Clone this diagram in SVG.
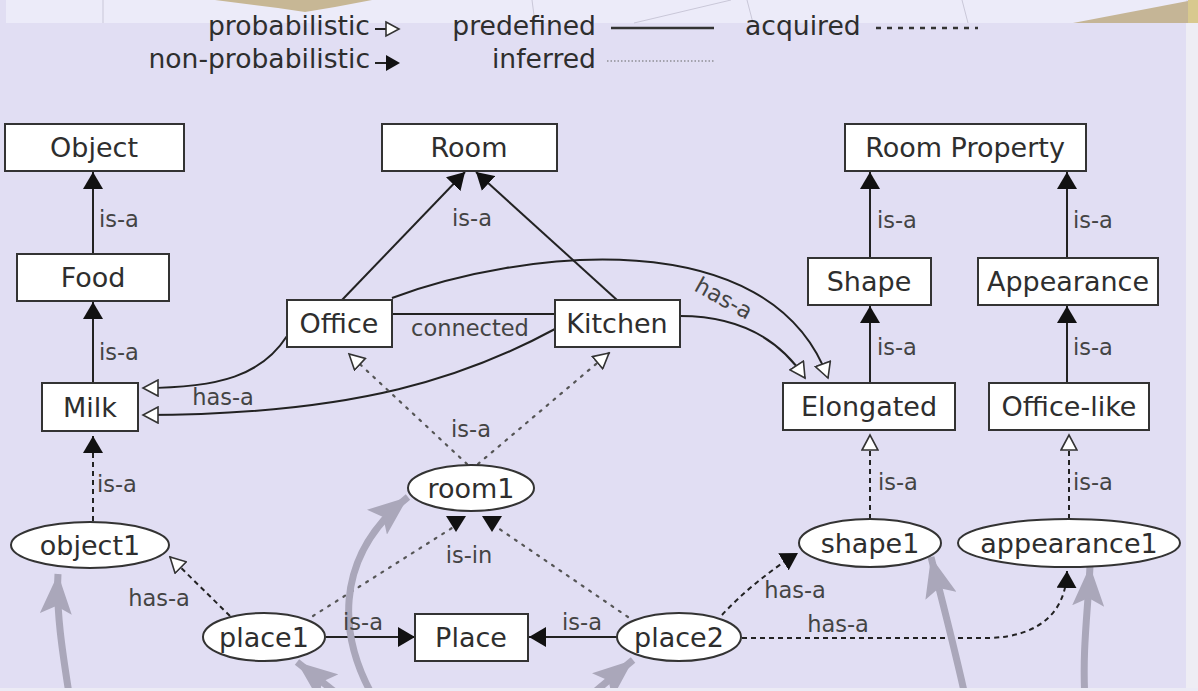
<svg xmlns="http://www.w3.org/2000/svg" width="1198" height="691" viewBox="0 0 1198 691">
<style>
.box{fill:#fff;stroke:#333;stroke-width:2}
.nl{font-family:"DejaVu Sans",sans-serif;font-size:27px;fill:#2e2e2e;text-anchor:middle}
.el{font-family:"DejaVu Sans",sans-serif;font-size:22.5px;fill:#444}
.lg{font-family:"DejaVu Sans",sans-serif;font-size:26.6px;fill:#2e2e2e}
.e{fill:none;stroke:#222;stroke-width:2}
.acq{fill:none;stroke:#222;stroke-width:2;stroke-dasharray:5 4}
.inf{fill:none;stroke:#555;stroke-width:2.2;stroke-dasharray:2 7;stroke-linecap:round}
.g{fill:none;stroke:#aaa7ba;stroke-width:7}
.ah{fill:#111}
</style>
<defs>
<marker id="f" markerUnits="userSpaceOnUse" markerWidth="18" markerHeight="20" refX="17" refY="10" orient="auto"><path d="M0,0 L17,10 L0,20 z" fill="#111"/></marker>
<marker id="h" markerUnits="userSpaceOnUse" markerWidth="18" markerHeight="18" refX="16" refY="9" orient="auto"><path d="M1,1 L16,9 L1,17 z" fill="#fff" stroke="#333" stroke-width="1.6"/></marker>
<marker id="ga" markerUnits="userSpaceOnUse" markerWidth="42" markerHeight="32" refX="40" refY="16" orient="auto"><path d="M0,0 L40,16 L0,32 L8,16 z" fill="#aaa7ba"/></marker>
</defs>
<rect x="0" y="0" width="1198" height="691" fill="#e1def3"/>
<rect x="6" y="0" width="1180" height="23" fill="#ecebf9"/>
<rect x="1186" y="23" width="12" height="668" fill="#eeedf4"/>
<g stroke="#c9c7d8" stroke-width="1" fill="none">
<line x1="103" y1="0" x2="103" y2="23"/>
<line x1="532" y1="0" x2="535" y2="23"/>
<line x1="634" y1="23" x2="731" y2="0"/>
<line x1="747" y1="0" x2="753" y2="23"/>
<line x1="962" y1="0" x2="968" y2="23"/>
</g>
<polygon points="215,0 372,0 335,7 305,12 278,8" fill="#c7b795"/>
<polygon points="1073,23 1188,1 1188,23" fill="#c5b596"/>
<rect x="1188" y="0" width="10" height="23" fill="#d8c98e"/>

<g id="legend">
<text class="lg" x="370" y="35" text-anchor="end">probabilistic</text>
<line x1="375" y1="29" x2="388" y2="29" stroke="#222" stroke-width="2"/>
<path d="M386,22 L399,29 L386,36 z" fill="#fff" stroke="#333" stroke-width="1.6"/>
<text class="lg" x="370" y="68" text-anchor="end">non-probabilistic</text>
<line x1="375" y1="63" x2="388" y2="63" stroke="#222" stroke-width="2"/>
<path d="M386,55 L400,63 L386,71 z" fill="#111"/>
<text class="lg" x="596" y="35" text-anchor="end">predefined</text>
<line x1="611" y1="28" x2="714" y2="28" stroke="#333" stroke-width="2.5"/>
<text class="lg" x="596" y="68" text-anchor="end">inferred</text>
<line x1="607" y1="61" x2="714" y2="61" stroke="#666" stroke-width="1.2" stroke-dasharray="1.5 2"/>
<text class="lg" x="745" y="35">acquired</text>
<line x1="876" y1="28" x2="978" y2="28" stroke="#333" stroke-width="2.5" stroke-dasharray="5 6"/>
</g>

<g id="connectors">
<line class="e" x1="93" y1="254" x2="93" y2="172" marker-end="url(#f)"/>
<line class="e" x1="93" y1="383" x2="93" y2="302" marker-end="url(#f)"/>
<line class="acq" x1="93" y1="521" x2="93" y2="436" marker-end="url(#f)"/>
<line class="e" x1="342" y1="300" x2="465" y2="172" marker-end="url(#f)"/>
<line class="e" x1="617" y1="300" x2="476" y2="172" marker-end="url(#f)"/>
<line class="e" x1="392" y1="314" x2="555" y2="314"/>
<path class="e" d="M287,336 C262,375 220,388 143,388" marker-end="url(#h)"/>
<path class="e" d="M555,329 C470,375 360,415 143,415" marker-end="url(#h)"/>
<path class="e" d="M392,298 C520,250 770,220 828,378" marker-end="url(#h)"/>
<path class="e" d="M680,316 C740,316 780,340 805,378" marker-end="url(#h)"/>
<line class="e" x1="870" y1="258" x2="870" y2="172" marker-end="url(#f)"/>
<line class="e" x1="1067" y1="258" x2="1067" y2="172" marker-end="url(#f)"/>
<line class="e" x1="870" y1="383" x2="870" y2="306" marker-end="url(#f)"/>
<line class="e" x1="1067" y1="383" x2="1067" y2="306" marker-end="url(#f)"/>
<line class="acq" x1="870" y1="519" x2="870" y2="435" marker-end="url(#h)"/>
<line class="acq" x1="1069" y1="519" x2="1069" y2="435" marker-end="url(#h)"/>
<path class="inf" d="M467,464 L349,354" marker-end="url(#h)"/>
<path class="inf" d="M478,464 L609,353" marker-end="url(#h)"/>
<path class="inf" d="M313,616 L452,528"/>
<path class="inf" d="M628,617 L498,528"/>
<polygon class="ah" points="446,516 466,516 456,532"/>
<polygon class="ah" points="482,516 502,516 492,532"/>
<path class="acq" d="M230,616 L170,557" marker-end="url(#h)"/>
<line class="e" x1="326" y1="637" x2="415" y2="637" marker-end="url(#f)"/>
<line class="e" x1="617" y1="637" x2="529" y2="637" marker-end="url(#f)"/>
<path class="acq" d="M722,615 C740,595 770,570 798,553" marker-end="url(#f)"/>
<path class="acq" d="M742,638 L990,638 C1040,636 1066,612 1067,571" marker-end="url(#f)"/>
<path class="g" d="M70,700 C62,650 56,610 58,574" marker-end="url(#ga)"/>
<path class="g" d="M345,700 L297,662" marker-end="url(#ga)"/>
<path class="g" d="M375,700 C340,640 330,560 408,497" marker-end="url(#ga)"/>
<path class="g" d="M585,700 L633,660" marker-end="url(#ga)"/>
<path class="g" d="M966,700 C955,650 942,600 931,557" marker-end="url(#ga)"/>
<path class="g" d="M1085,700 C1082,650 1088,610 1090,566" marker-end="url(#ga)"/>
<text class="el" x="99" y="227">is-a</text>
<text class="el" x="99" y="360">is-a</text>
<text class="el" x="97" y="492">is-a</text>
<text class="el" x="472" y="226" text-anchor="middle">is-a</text>
<text class="el" x="470" y="336" text-anchor="middle">connected</text>
<text class="el" x="223" y="405" text-anchor="middle">has-a</text>
<text class="el" transform="translate(720,305) rotate(29)" text-anchor="middle">has-a</text>
<text class="el" x="877" y="228">is-a</text>
<text class="el" x="1073" y="228">is-a</text>
<text class="el" x="877" y="355">is-a</text>
<text class="el" x="1073" y="355">is-a</text>
<text class="el" x="878" y="490">is-a</text>
<text class="el" x="1073" y="490">is-a</text>
<text class="el" x="471" y="437" text-anchor="middle">is-a</text>
<text class="el" x="469" y="563" text-anchor="middle">is-in</text>
<text class="el" x="159" y="606" text-anchor="middle">has-a</text>
<text class="el" x="363" y="630" text-anchor="middle">is-a</text>
<text class="el" x="582" y="630" text-anchor="middle">is-a</text>
<text class="el" x="795" y="598" text-anchor="middle">has-a</text>
<text class="el" x="838" y="632" text-anchor="middle">has-a</text>
</g>

<g id="Object"><rect class="box" x="5" y="124" width="179" height="47"/><text class="nl" x="94" y="157">Object</text></g>
<g id="Food"><rect class="box" x="17" y="254" width="152" height="47"/><text class="nl" x="93" y="287">Food</text></g>
<g id="Milk"><rect class="box" x="42" y="383" width="96" height="48"/><text class="nl" x="90" y="417">Milk</text></g>
<g id="Room"><rect class="box" x="382" y="124" width="175" height="47"/><text class="nl" x="469" y="157">Room</text></g>
<g id="Office"><rect class="box" x="287" y="300" width="105" height="47"/><text class="nl" x="339" y="333">Office</text></g>
<g id="Kitchen"><rect class="box" x="555" y="300" width="125" height="47"/><text class="nl" x="617" y="333">Kitchen</text></g>
<g id="RoomProperty"><rect class="box" x="845" y="124" width="241" height="47"/><text class="nl" x="965" y="157">Room Property</text></g>
<g id="Shape"><rect class="box" x="808" y="258" width="123" height="47"/><text class="nl" x="869" y="291">Shape</text></g>
<g id="Appearance"><rect class="box" x="978" y="258" width="180" height="47"/><text class="nl" x="1068" y="291">Appearance</text></g>
<g id="Elongated"><rect class="box" x="783" y="383" width="172" height="47"/><text class="nl" x="869" y="416">Elongated</text></g>
<g id="OfficeLike"><rect class="box" x="989" y="383" width="160" height="47"/><text class="nl" x="1069" y="416">Office-like</text></g>
<g id="Place"><rect class="box" x="415" y="614" width="113" height="47"/><text class="nl" x="471" y="647">Place</text></g>
<g id="room1"><ellipse class="box" cx="471" cy="488" rx="63" ry="23"/><text class="nl" x="471" y="497.5">room1</text></g>
<g id="object1"><ellipse class="box" cx="90" cy="545" rx="79" ry="23"/><text class="nl" x="90" y="554.5">object1</text></g>
<g id="place1"><ellipse class="box" cx="264" cy="637" rx="61" ry="24"/><text class="nl" x="264" y="646.5">place1</text></g>
<g id="place2"><ellipse class="box" cx="679" cy="637" rx="62" ry="24"/><text class="nl" x="679" y="646.5">place2</text></g>
<g id="shape1"><ellipse class="box" cx="870" cy="543" rx="71" ry="24"/><text class="nl" x="870" y="552.5">shape1</text></g>
<g id="appearance1"><ellipse class="box" cx="1069" cy="543" rx="111" ry="24"/><text class="nl" x="1069" y="552.5">appearance1</text></g>
<rect x="0" y="688" width="1198" height="3" fill="#ecebf5"/>
</svg>
